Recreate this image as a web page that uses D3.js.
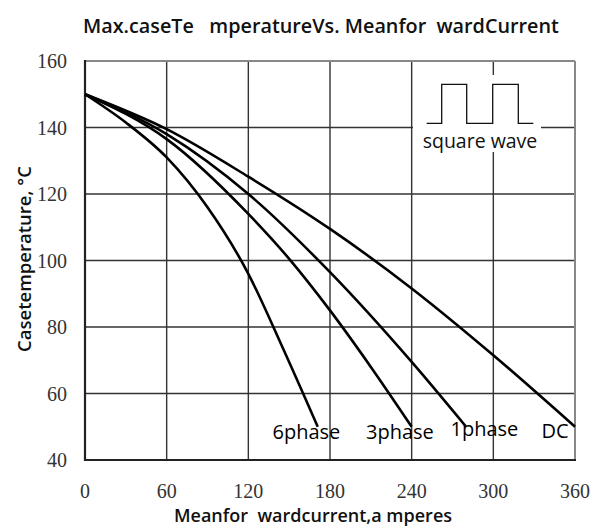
<!DOCTYPE html>
<html>
<head>
<meta charset="utf-8">
<script src="https://cdn.jsdelivr.net/npm/d3@7"></script>
<style>
  html, body { margin: 0; padding: 0; background: #fff; }
  svg { display: block; }
</style>
</head>
<body>
<svg id="chart" width="600" height="528"></svg>
<script>
// ---- data ----
const xTicks = [0, 60, 120, 180, 240, 300, 360];
const yTicks = [40, 60, 80, 100, 120, 140, 160];

const dcX = [0, 60, 120, 180, 240, 300, 360];
const dcY = [150, 139.5, 125.2, 109.5, 91.6, 71.5, 50];

const phase1X = [0, 60, 120, 180, 240, 280];
const phase1Y = [150, 138, 120, 96.5, 69.5, 50];

const phase3X = [0, 60, 120, 150, 180, 210, 240];
const phase3Y = [150, 136.5, 114, 100.5, 85, 68, 50];

const phase6X = [0, 30, 60, 90, 120, 145, 171];
const phase6Y = [150, 141.5, 131, 116, 96, 74, 50];

const seriesNames = ["DC", "1phase", "3phase", "6phase"];
const titleText = "Max.caseTe   mperatureVs. Meanfor  wardCurrent";
const xTitle = "Meanfor  wardcurrent,a mperes";
const yTitle = "Casetemperature, \u00B0C";
const insetLabel = "square wave";

// ---- chart ----
const svg = d3.select("#chart");
const x = d3.scaleLinear().domain([0, 360]).range([85, 575]);
const y = d3.scaleLinear().domain([40, 160]).range([460, 61]);

const SERIF = '"Liberation Serif"';
const SANS = '"Open Sans"';

// grid
const g = svg.append("g");
g.selectAll("line.vg").data(xTicks.slice(1, -1)).join("line")
  .attr("x1", d => x(d)).attr("x2", d => x(d))
  .attr("y1", y(160)).attr("y2", y(40))
  .attr("stroke", "#333").attr("stroke-width", 1.4);
g.selectAll("line.hg").data(yTicks.slice(1, -1)).join("line")
  .attr("x1", x(0)).attr("x2", x(360))
  .attr("y1", d => y(d)).attr("y2", d => y(d))
  .attr("stroke", "#333").attr("stroke-width", 1.4);

// frame
svg.append("line").attr("x1", x(0)).attr("x2", x(360)).attr("y1", y(160)).attr("y2", y(160))
  .attr("stroke", "#888").attr("stroke-width", 2);
svg.append("line").attr("x1", x(360)).attr("x2", x(360)).attr("y1", y(160)).attr("y2", y(40))
  .attr("stroke", "#888").attr("stroke-width", 2);
svg.append("line").attr("x1", x(0)).attr("x2", x(0)).attr("y1", y(160) - 1).attr("y2", y(40) + 1)
  .attr("stroke", "#222").attr("stroke-width", 2.2);
svg.append("line").attr("x1", x(0) - 1).attr("x2", x(360) + 1).attr("y1", y(40)).attr("y2", y(40))
  .attr("stroke", "#222").attr("stroke-width", 2.2);

// inset square wave
const inset = svg.append("g");
inset.append("rect").attr("x", 413).attr("y", 75).attr("width", 128).attr("height", 77).attr("fill", "#fff");
const wave = [[426.7,123.3],[441.7,123.3],[441.7,84.3],[466.7,84.3],[466.7,123.3],[492.7,123.3],[492.7,84.3],[518.3,84.3],[518.3,123.3],[533.3,123.3]];
inset.append("path").attr("d", d3.line()(wave)).attr("fill", "none").attr("stroke", "#111").attr("stroke-width", 1.3);
inset.append("text").attr("x", 480).attr("y", 148).attr("text-anchor", "middle")
  .style("font-family", SANS).style("font-size", "19.5px").style("font-weight", 500)
  .attr("fill", "#111")
  .text(insetLabel);

// curves
const line = d3.line().x(d => x(d[0])).y(d => y(d[1])).curve(d3.curveMonotoneX);
const curves = [d3.zip(dcX, dcY), d3.zip(phase1X, phase1Y), d3.zip(phase3X, phase3Y), d3.zip(phase6X, phase6Y)];
svg.append("g").selectAll("path").data(curves).join("path")
  .attr("d", line).attr("fill", "none").attr("stroke", "#000").attr("stroke-width", 2.6)
  .attr("stroke-linejoin", "round");

// curve labels
const labelPos = [[541.5, 438], [450.5, 436], [366, 439], [272.5, 439]];
svg.append("g").selectAll("text").data(seriesNames).join("text")
  .attr("x", (d, i) => labelPos[i][0]).attr("y", (d, i) => labelPos[i][1])
  .style("font-family", SANS).style("font-size", "20px").style("font-weight", 500)
  .attr("fill", "#000")
  .text(d => d);

// axes tick labels
svg.append("g").selectAll("text").data(yTicks).join("text")
  .attr("x", 67).attr("y", d => y(d) + 7)
  .attr("text-anchor", "end")
  .style("font-family", SERIF).style("font-size", "20px")
  .attr("fill", "#333")
  .text(d => d);
svg.append("g").selectAll("text").data(xTicks).join("text")
  .attr("x", d => x(d)).attr("y", 498)
  .attr("text-anchor", "middle")
  .style("font-family", SERIF).style("font-size", "20px")
  .attr("fill", "#333")
  .text(d => d);

// titles
svg.append("text").attr("x", 83).attr("y", 33)
  .style("font-family", SANS).style("font-size", "19.8px").style("font-weight", 600)
  .style("white-space", "pre")
  .attr("fill", "#111")
  .text(titleText);
svg.append("text").attr("x", 313).attr("y", 522).attr("text-anchor", "middle")
  .style("font-family", SANS).style("font-size", "18px").style("font-weight", 600)
  .style("white-space", "pre")
  .attr("fill", "#111")
  .text(xTitle);
svg.append("text").attr("transform", "translate(31,259) rotate(-90)").attr("text-anchor", "middle")
  .style("font-family", SANS).style("font-size", "18.5px").style("font-weight", 600)
  .attr("fill", "#111")
  .text(yTitle);
</script>
</body>
</html>
